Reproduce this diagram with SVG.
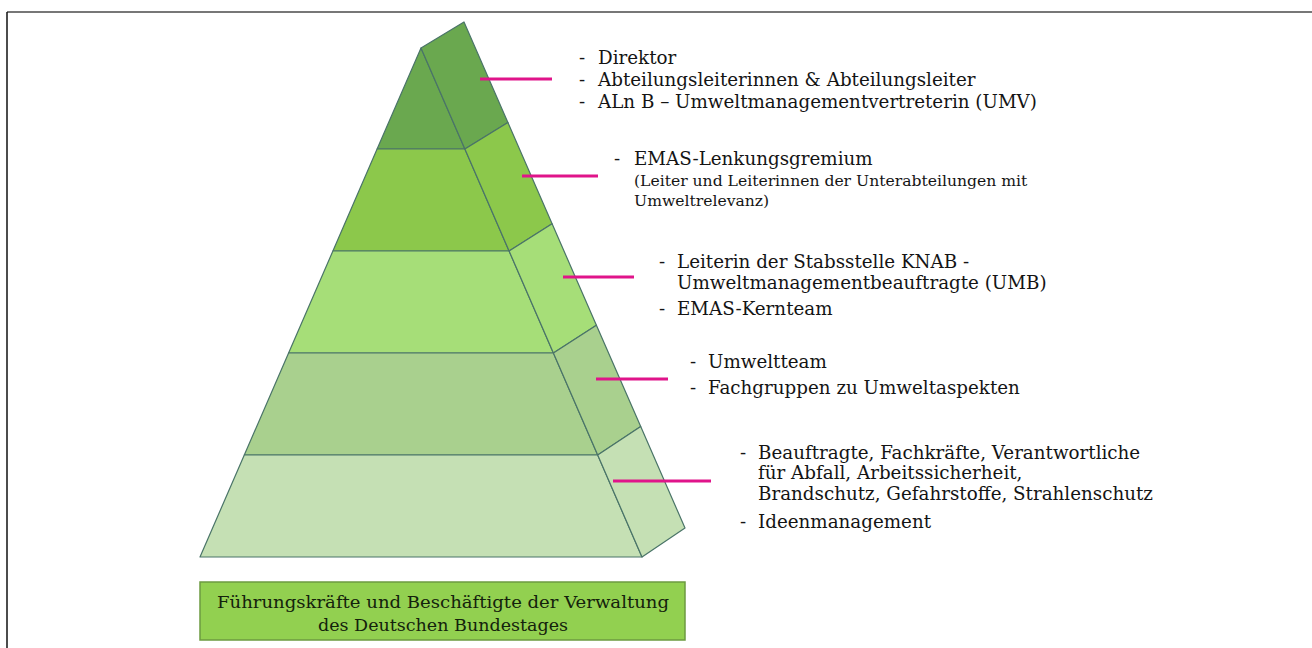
<svg xmlns="http://www.w3.org/2000/svg" width="1312" height="648" viewBox="0 0 1312 648">
<style>
.face{stroke:#4a7468;stroke-width:1.2;stroke-linejoin:round}
.b1{fill:#6aa84f}.b2{fill:#8cc84b}.b3{fill:#a6de78}.b4{fill:#a9d08e}.b5{fill:#c5e0b4}
.lbl{font-family:"DejaVu Serif","Liberation Serif",serif;font-size:18.3px;fill:#141414}
.sm{font-size:15.6px}
.ptr{stroke:#e0148a;stroke-width:3;fill:none}
.cap{font-family:"DejaVu Serif","Liberation Serif",serif;font-size:17.5px;fill:#14220c;text-anchor:middle}
</style>
<rect width="1312" height="648" fill="#ffffff"/>
<line x1="7" y1="12" x2="1312" y2="12" stroke="#777" stroke-width="2"/>
<line x1="7" y1="12" x2="7" y2="648" stroke="#111" stroke-width="1.5"/>

<g id="level1">
<polygon class="face b1" points="421,48 464.9,149 377.1,149"/>
<polygon class="face b1" points="421,48 464,22 507.9,122.4 464.9,149"/>
</g>
<g id="level2">
<polygon class="face b2" points="377.1,149 464.9,149 509.1,251 332.9,251"/>
<polygon class="face b2" points="464.9,149 507.9,122.4 552.1,223.8 509.1,251"/>
</g>
<g id="level3">
<polygon class="face b3" points="332.9,251 509.1,251 553.4,353 288.6,353"/>
<polygon class="face b3" points="509.1,251 552.1,223.8 596.4,325.2 553.4,353"/>
</g>
<g id="level4">
<polygon class="face b4" points="288.6,353 553.4,353 597.7,455 244.3,455"/>
<polygon class="face b4" points="553.4,353 596.4,325.2 640.7,426.6 597.7,455"/>
</g>
<g id="level5">
<polygon class="face b5" points="244.3,455 597.7,455 642,557 200,557"/>
<polygon class="face b5" points="597.7,455 640.7,426.6 685,528 642,557"/>
</g>

<g id="connectors">
<line class="ptr" x1="480" y1="79" x2="552" y2="79"/>
<line class="ptr" x1="522" y1="176" x2="598" y2="176"/>
<line class="ptr" x1="563" y1="277" x2="634" y2="277"/>
<line class="ptr" x1="596" y1="379" x2="668" y2="379"/>
<line class="ptr" x1="613" y1="481" x2="711" y2="481"/>
</g>

<g id="label1" class="lbl">
<text x="579" y="64">-</text><text x="598" y="64">Direktor</text>
<text x="579" y="86">-</text><text x="598" y="86">Abteilungsleiterinnen &amp; Abteilungsleiter</text>
<text x="579" y="108">-</text><text x="598" y="108">ALn B – Umweltmanagementvertreterin (UMV)</text>
</g>
<g id="label2" class="lbl">
<text x="614" y="165">-</text><text x="634" y="165">EMAS-Lenkungsgremium</text>
<text x="634" y="186" class="sm">(Leiter und Leiterinnen der Unterabteilungen mit</text>
<text x="634" y="206" class="sm">Umweltrelevanz)</text>
</g>
<g id="label3" class="lbl">
<text x="659" y="268">-</text><text x="677" y="268">Leiterin der Stabsstelle KNAB -</text>
<text x="677" y="289">Umweltmanagementbeauftragte (UMB)</text>
<text x="659" y="315">-</text><text x="677" y="315">EMAS-Kernteam</text>
</g>
<g id="label4" class="lbl">
<text x="690" y="368">-</text><text x="708" y="368">Umweltteam</text>
<text x="690" y="394">-</text><text x="708" y="394">Fachgruppen zu Umweltaspekten</text>
</g>
<g id="label5" class="lbl">
<text x="740" y="459">-</text><text x="758" y="459">Beauftragte, Fachkräfte, Verantwortliche</text>
<text x="758" y="479">für Abfall, Arbeitssicherheit,</text>
<text x="758" y="500">Brandschutz, Gefahrstoffe, Strahlenschutz</text>
<text x="740" y="528">-</text><text x="758" y="528">Ideenmanagement</text>
</g>

<g id="caption">
<rect x="200" y="582" width="485" height="58" fill="#92d050" stroke="#6c9a40" stroke-width="1.5"/>
<text class="cap" x="443" y="608" textLength="452" lengthAdjust="spacingAndGlyphs">Führungskräfte und Beschäftigte der Verwaltung</text>
<text class="cap" x="443" y="631" textLength="250" lengthAdjust="spacingAndGlyphs">des Deutschen Bundestages</text>
</g>
</svg>
